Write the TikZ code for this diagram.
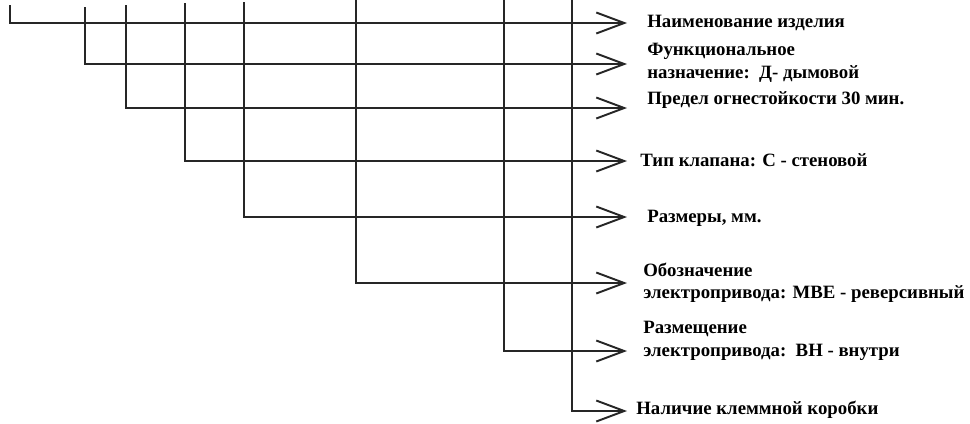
\documentclass[tikz,border=0pt]{standalone}
\usepackage{fontspec}
\setmainfont{Liberation Serif}
\usetikzlibrary{arrows.meta}

\begin{document}
\begin{tikzpicture}[x=0.02cm, y=-0.02cm,
    %Open arrow heads
    >={Straight Barb[length=5.6mm,width=4.2mm]},
    branch/.style={->, line width=1.1pt, color=black!85},
    lbl/.style={anchor=west, inner sep=0pt, align=left,
        font=\fontsize{10.7}{12.7}\selectfont\bfseries},
]
    \useasboundingbox (0,0) rectangle (970,423);

    % Tops of the branches
    \coordinate (t1) at (10,5);
    \coordinate (t2) at (85,7);
    \coordinate (t3) at (126,5);
    \coordinate (t4) at (185,3);
    \coordinate (t5) at (244,2);
    \coordinate (t6) at (356,0);
    \coordinate (t7) at (504,0);
    \coordinate (t8) at (572,0);

    % Arrow ends
    \foreach \n/\y in {1/23, 2/64, 3/108, 4/161, 5/217, 6/283, 7/351, 8/411}
        \coordinate (e\n) at (627,\y);

    % Labels
    \node[lbl] (l1) at (647,23)  {Наименование изделия};
    \node[lbl] (l2) at (647,63)  {Функциональное\\назначение:~~Д- дымовой};
    \node[lbl] (l3) at (647,100) {Предел огнестойкости 30 мин.};
    \node[lbl] (l4) at (640,160) {Тип клапана: С - стеновой};
    \node[lbl] (l5) at (647,218) {Размеры, мм.};
    \node[lbl] (l6) at (643,283) {Обозначение\\электропривода: МВЕ - реверсивный};
    \node[lbl] (l7) at (643,341) {Размещение\\электропривода:~~ВН - внутри};
    \node[lbl] (l8) at (636,410) {Наличие клеммной коробки};

    % Branches
    \foreach \n in {1,...,8}
        \draw[branch] (t\n) |- (e\n);
\end{tikzpicture}
\end{document}
